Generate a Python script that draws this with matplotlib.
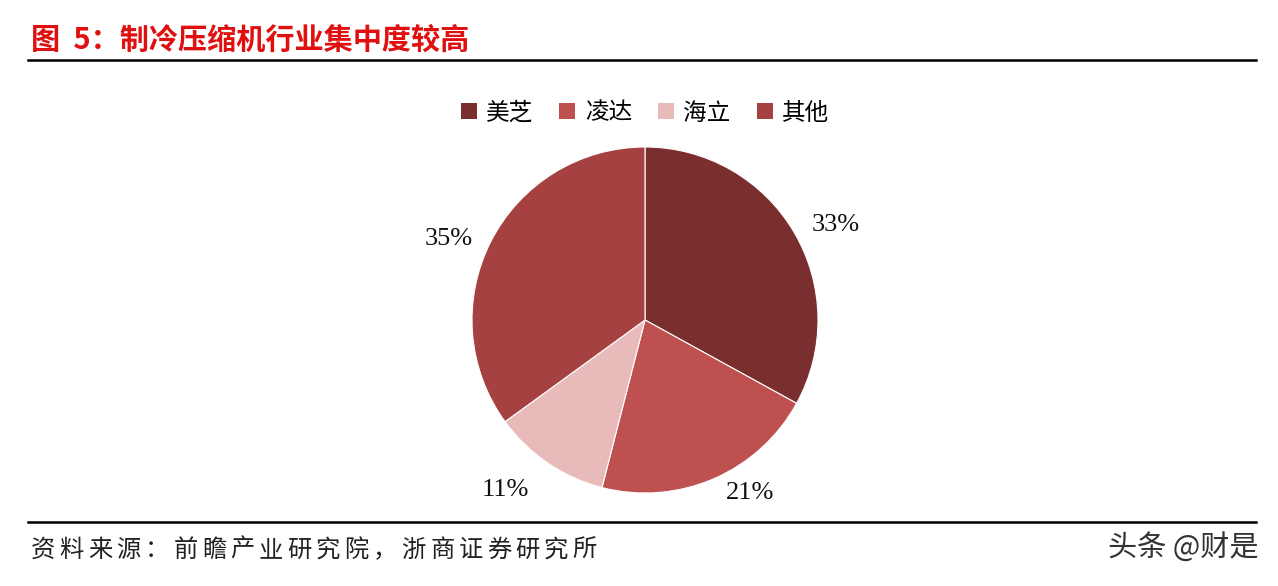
import numpy as np
import matplotlib
matplotlib.use("Agg")
import matplotlib.pyplot as plt
from matplotlib.patches import Patch
from matplotlib.lines import Line2D

categories = ["美芝", "凌达", "海立", "其他"]
shares = [33, 21, 11, 35]
colors = ["#7B2E2E", "#BF5050", "#E8BABA", "#A54241"]
title = "图  5：制冷压缩机行业集中度较高"
source = "资料来源：前瞻产业研究院，浙商证券研究所"
watermark = "头条 @财是"

# label placement (best-fit style offsets, in radius units / degrees)
label_dist = [1.23, 1.17, 1.27, 1.23]
label_shift = [-4.0, 8.0, -5.3, 4.5]

plt.rcParams['font.family'] = ['Noto Sans CJK SC', 'DejaVu Sans']

W, H = 1278, 586
fig = plt.figure(figsize=(W / 100, H / 100), dpi=100)
fig.patch.set_facecolor("white")

cx, cy, r = 645, 320, 173
w = 500
L = w / (2 * r)
ax = fig.add_axes([(cx - w / 2) / W, (H - cy - w / 2) / H, w / W, w / H])
wedges, _ = ax.pie(shares, colors=colors, startangle=90, counterclock=False,
                   wedgeprops=dict(linewidth=0.8, edgecolor="white"))
for wdg, v, d, s in zip(wedges, shares, label_dist, label_shift):
    mid = np.deg2rad((wdg.theta1 + wdg.theta2) / 2 + s)
    ax.text(d * np.cos(mid), d * np.sin(mid), f"{v}%", ha="center", va="center",
            fontsize=19, family="Liberation Serif", color="#111111")
ax.set_xlim(-L, L)
ax.set_ylim(-L, L)
ax.set_aspect("equal")
ax.axis("off")

handles = [Patch(facecolor=c, edgecolor="none") for c in colors]
fig.legend(handles, categories, loc="center", bbox_to_anchor=(645 / W, 1 - 113 / H),
           ncol=4, frameon=False, fontsize=17, handlelength=0.68, handleheight=0.68,
           handletextpad=0.4, columnspacing=1.1)

fig.text(31 / W, 1 - 40 / H, title, color="#E01010", fontsize=21, fontweight="bold",
         ha="left", va="center")
fig.add_artist(Line2D([28 / W, 1256 / W], [1 - 60 / H, 1 - 60 / H], color="black", lw=1.8))
fig.add_artist(Line2D([28 / W, 1256 / W], [1 - 522 / H, 1 - 522 / H], color="black", lw=1.8))

# footer with wide character spacing
step = 28.5
for i, ch in enumerate(source):
    fig.text((31 + i * step) / W, 1 - 550 / H, ch, color="#222222", fontsize=17.5,
             ha="left", va="center")
fig.text(1258 / W, 1 - 548 / H, watermark, color="#333333", fontsize=21, ha="right", va="center")

fig.savefig("out.png", dpi=100, facecolor="white")
